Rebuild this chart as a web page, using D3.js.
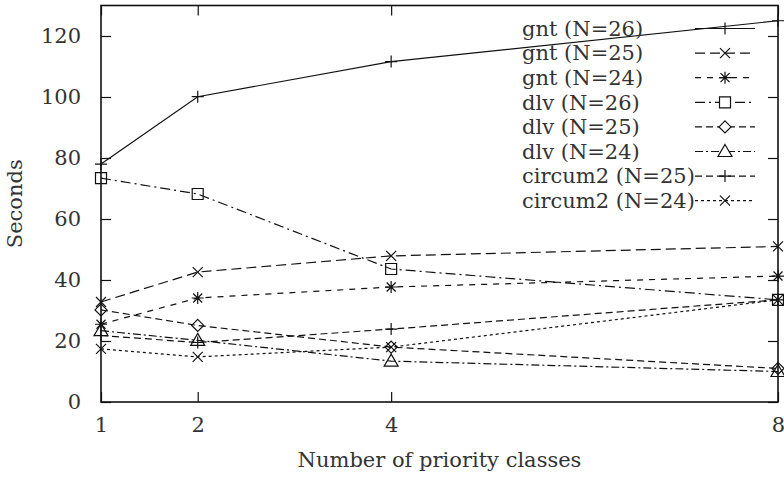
<!DOCTYPE html>
<html>
<head>
<meta charset="utf-8">
<script src="https://cdn.jsdelivr.net/npm/d3@7"></script>
<style>
  body { margin: 0; background: #fff; }
</style>
</head>
<body>
<svg id="chart" width="784" height="478"></svg>
<script>
// data
const xValues = [1, 2, 4, 8];
const seriesNames = ["gnt (N=26)", "gnt (N=25)", "gnt (N=24)", "dlv (N=26)",
                     "dlv (N=25)", "dlv (N=24)", "circum2 (N=25)", "circum2 (N=24)"];
const gnt26 = [78, 100.1, 111.6, 125];
const gnt25 = [32.8, 42.6, 47.9, 51];
const gnt24 = [25.5, 34.1, 37.7, 41.3];
const dlv26 = [73.4, 68.2, 43.6, 33.5];
const dlv25 = [30.2, 25.1, 18, 11];
const dlv24 = [23.4, 20.2, 13.4, 10];
const circum25 = [21.8, 19.5, 23.9, 33.5];
const circum24 = [17.4, 14.8, 18, 33.5];
const xTicks = [1, 2, 4, 8];
const yTicks = [0, 20, 40, 60, 80, 100, 120];

const seriesValues = [gnt26, gnt25, gnt24, dlv26, dlv25, dlv24, circum25, circum24];

// line dash and point type per series (gnuplot style)
const dashes = ["", "10,5", "6,6", "10,4,2,4", "7,4", "8,3,2,3", "7,4", "3,3"];
const marks = [
  "M-6,0H6M0,-6V6",                                  // plus
  "M-5,-5L5,5M-5,5L5,-5",                            // cross
  "M-6,0H6M0,-6V6M-4.5,-4.5L4.5,4.5M-4.5,4.5L4.5,-4.5", // star
  "M-5.5,-5.5H5.5V5.5H-5.5Z",                         // square
  "M0,-6L6,0L0,6L-6,0Z",                             // diamond
  "M0,-7L7,5H-7Z",                                   // triangle
  "M-6,0H6M0,-6V6",
  "M-5,-5L5,5M-5,5L5,-5"
];

const FONT = "'DejaVu Serif', serif";
const FS = 21;

const svg = d3.select("#chart");
const plotLeft = 101, plotRight = 778, plotTop = 5.5, plotBottom = 402;

const x = d3.scaleLinear().domain([1, 8]).range([plotLeft, plotRight]);
const y = d3.scaleLinear().domain([0, 130]).range([plotBottom, plotTop]);

function styleAxis(g) {
  g.select(".domain").remove();
  g.attr("font-family", FONT).attr("font-size", FS);
  g.selectAll("line").attr("stroke", "#111").attr("stroke-width", 1.2);
  g.selectAll("text").attr("fill", "#333");
}

svg.append("g")
  .attr("transform", `translate(${plotLeft},0)`)
  .call(d3.axisLeft(y).tickValues(yTicks).tickFormat(d3.format("d")).tickSize(-10).tickPadding(20))
  .call(styleAxis);

svg.append("g")
  .attr("transform", `translate(${plotRight},0)`)
  .call(d3.axisRight(y).tickValues(yTicks).tickSize(-10).tickFormat(""))
  .call(styleAxis);

svg.append("g")
  .attr("transform", `translate(0,${plotBottom})`)
  .call(d3.axisBottom(x).tickValues(xTicks).tickFormat(d3.format("d")).tickSize(-10).tickPadding(15))
  .call(styleAxis);

svg.append("g")
  .attr("transform", `translate(0,${plotTop})`)
  .call(d3.axisTop(x).tickValues(xTicks).tickSize(-10).tickFormat(""))
  .call(styleAxis);

// border
svg.append("rect")
  .attr("x", plotLeft).attr("y", plotTop)
  .attr("width", plotRight - plotLeft).attr("height", plotBottom - plotTop)
  .attr("fill", "none").attr("stroke", "#111").attr("stroke-width", 1.6);

// axis titles
svg.append("text")
  .attr("transform", `translate(22,${(plotTop + plotBottom) / 2}) rotate(-90)`)
  .attr("text-anchor", "middle")
  .attr("font-family", FONT)
  .attr("font-size", FS)
  .attr("fill", "#333")
  .text("Seconds");

svg.append("text")
  .attr("x", (plotLeft + plotRight) / 2).attr("y", 467)
  .attr("text-anchor", "middle")
  .attr("font-family", FONT)
  .attr("font-size", FS)
  .attr("fill", "#333")
  .text("Number of priority classes");

const line = d3.line()
  .x((d, i) => x(xValues[i]))
  .y(d => y(d));

const plot = svg.append("g");

seriesValues.forEach((vals, s) => {
  plot.append("path")
    .datum(vals)
    .attr("d", line)
    .attr("fill", "none")
    .attr("stroke", "#111")
    .attr("stroke-width", 1.2)
    .attr("stroke-dasharray", dashes[s]);

  plot.selectAll(null)
    .data(vals)
    .enter()
    .append("path")
    .attr("transform", (d, i) => `translate(${x(xValues[i])},${y(d)})`)
    .attr("d", marks[s])
    .attr("fill", "none")
    .attr("stroke", "#111")
    .attr("stroke-width", 1.2);
});

// key
const key = svg.append("g");
seriesNames.forEach((name, s) => {
  const ky = 28.5 + 24.6 * s;
  key.append("text")
    .attr("x", 522).attr("y", ky)
    .attr("dy", "0.35em")
    .attr("font-family", FONT)
    .attr("font-size", FS)
    .attr("fill", "#333")
    .text(name);
  key.append("line")
    .attr("x1", 695).attr("x2", 755)
    .attr("y1", ky).attr("y2", ky)
    .attr("stroke", "#111")
    .attr("stroke-width", 1.2)
    .attr("stroke-dasharray", dashes[s]);
  key.append("path")
    .attr("transform", `translate(725,${ky})`)
    .attr("d", marks[s])
    .attr("fill", s === 3 || s === 4 || s === 5 ? "#fff" : "none")
    .attr("stroke", "#111")
    .attr("stroke-width", 1.2);
});
</script>
</body>
</html>
